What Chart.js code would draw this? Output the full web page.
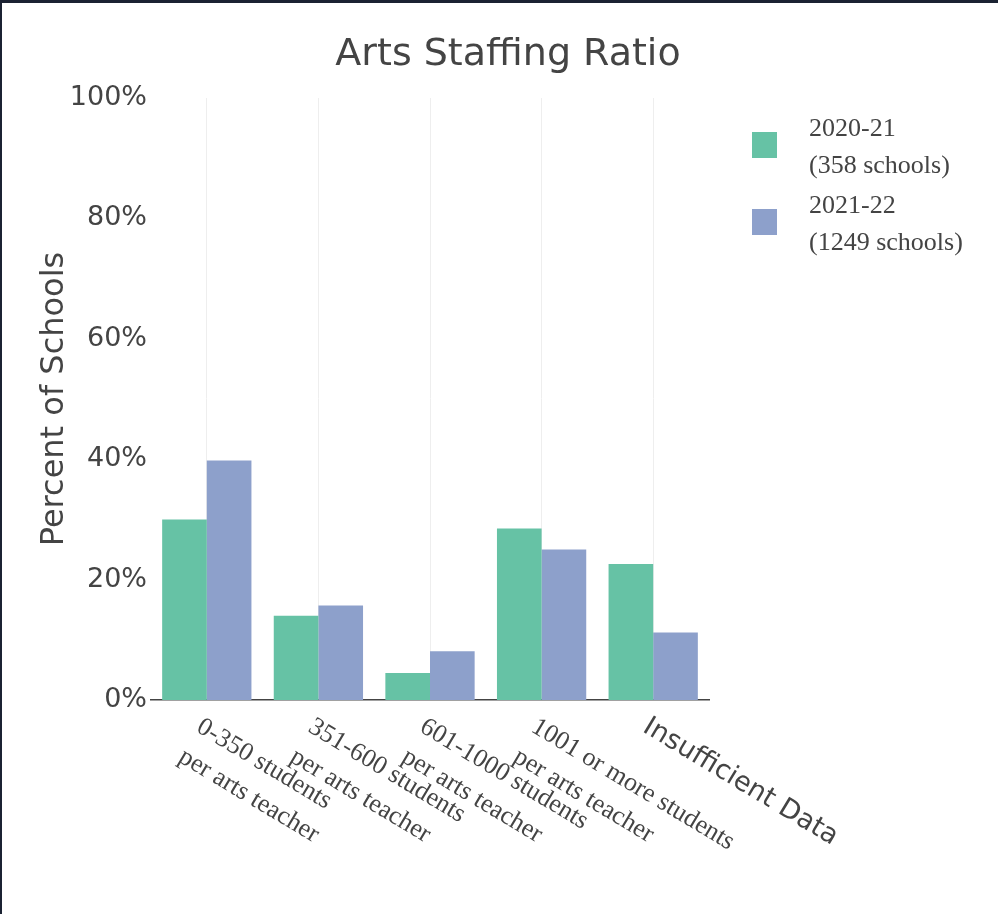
<!DOCTYPE html>
<html>
<head>
<meta charset="utf-8">
<script src="https://cdn.jsdelivr.net/npm/chart.js@4.4.1/dist/chart.umd.min.js"></script>
<style>
  body { margin: 0; background: #fff; }
  #wrap { width: 996px; height: 911px; border-top: 3px solid #1b2232; border-left: 2px solid #1b2232; }
</style>
</head>
<body>
<div id="wrap"><canvas id="staffing"></canvas></div>
<script>
// data
const categories = [
  ['0-350 students', 'per arts teacher'],
  ['351-600 students', 'per arts teacher'],
  ['601-1000 students', 'per arts teacher'],
  ['1001 or more students', 'per arts teacher'],
  ['Insufficient Data']
];
const values2021 = [30, 14, 4.5, 28.5, 22.6];
const values2122 = [39.8, 15.7, 8.1, 25, 11.2];
const legendLines = [['2020-21', '(358 schools)'], ['2021-22', '(1249 schools)']];
const yTicks = [0, 20, 40, 60, 80, 100];

const sansFont = "'DejaVu Sans', Verdana, sans-serif";
const serifFont = "'Liberation Serif', 'Times New Roman', serif";
const textColor = '#444';

// title, slanted category labels and the two-line legend
const decor = {
  id: 'decor',
  afterDraw(chart) {
    const { ctx, chartArea, scales } = chart;
    ctx.save();
    ctx.fillStyle = textColor;

    ctx.font = '38px ' + sansFont;
    ctx.textAlign = 'center';
    ctx.textBaseline = 'middle';
    ctx.fillText('Arts Staffing Ratio', 506, 52);

    categories.forEach((lines, i) => {
      const x = scales.x.getPixelForTick(i);
      ctx.save();
      ctx.translate(x - 8, chartArea.bottom + 25);
      ctx.rotate(31 * Math.PI / 180);
      ctx.font = lines.length > 1 ? '26px ' + serifFont : '27px ' + sansFont;
      ctx.textAlign = 'left';
      lines.forEach((t, j) => ctx.fillText(t, 0, j * 35));
      ctx.restore();
    });

    chart.data.datasets.forEach((ds, i) => {
      const cy = 142 + 77 * i;
      ctx.fillStyle = ds.backgroundColor;
      ctx.fillRect(750, cy - 13, 25, 26);
      ctx.fillStyle = textColor;
      ctx.font = '26px ' + serifFont;
      ctx.textAlign = 'left';
      ctx.fillText(legendLines[i][0], 807, cy - 16);
      ctx.fillText(legendLines[i][1], 807, cy + 21);
    });
    ctx.restore();
  }
};

new Chart(document.getElementById('staffing'), {
  type: 'bar',
  data: {
    labels: categories,
    datasets: [
      { label: '2020-21', data: values2021, backgroundColor: '#66c2a5' },
      { label: '2021-22', data: values2122, backgroundColor: '#8da0cb' }
    ]
  },
  options: {
    responsive: true,
    maintainAspectRatio: false,
    animation: false,
    layout: { padding: { top: 95, right: 289, bottom: 214, left: 0 } },
    datasets: { bar: { categoryPercentage: 0.8, barPercentage: 1.0 } },
    plugins: {
      legend: { display: false },
      title: { display: false },
      tooltip: { enabled: false }
    },
    scales: {
      x: {
        grid: { offset: false, color: '#eeeeee', drawTicks: false },
        border: { color: '#444', width: 1.5 },
        ticks: { display: false }
      },
      y: {
        min: 0,
        max: 100,
        afterFit: s => { s.width = 149; },
        afterBuildTicks: s => { s.ticks = yTicks.map(v => ({ value: v })); },
        grid: { display: false, drawTicks: false },
        border: { display: false },
        ticks: {
          padding: 4,
          color: textColor,
          font: { family: sansFont, size: 27 },
          callback: v => v + '%'
        },
        title: {
          display: true,
          text: 'Percent of Schools',
          color: textColor,
          font: { family: sansFont, size: 32 },
          padding: { top: 33, bottom: 0 }
        }
      }
    }
  },
  plugins: [decor]
});
</script>
</body>
</html>
